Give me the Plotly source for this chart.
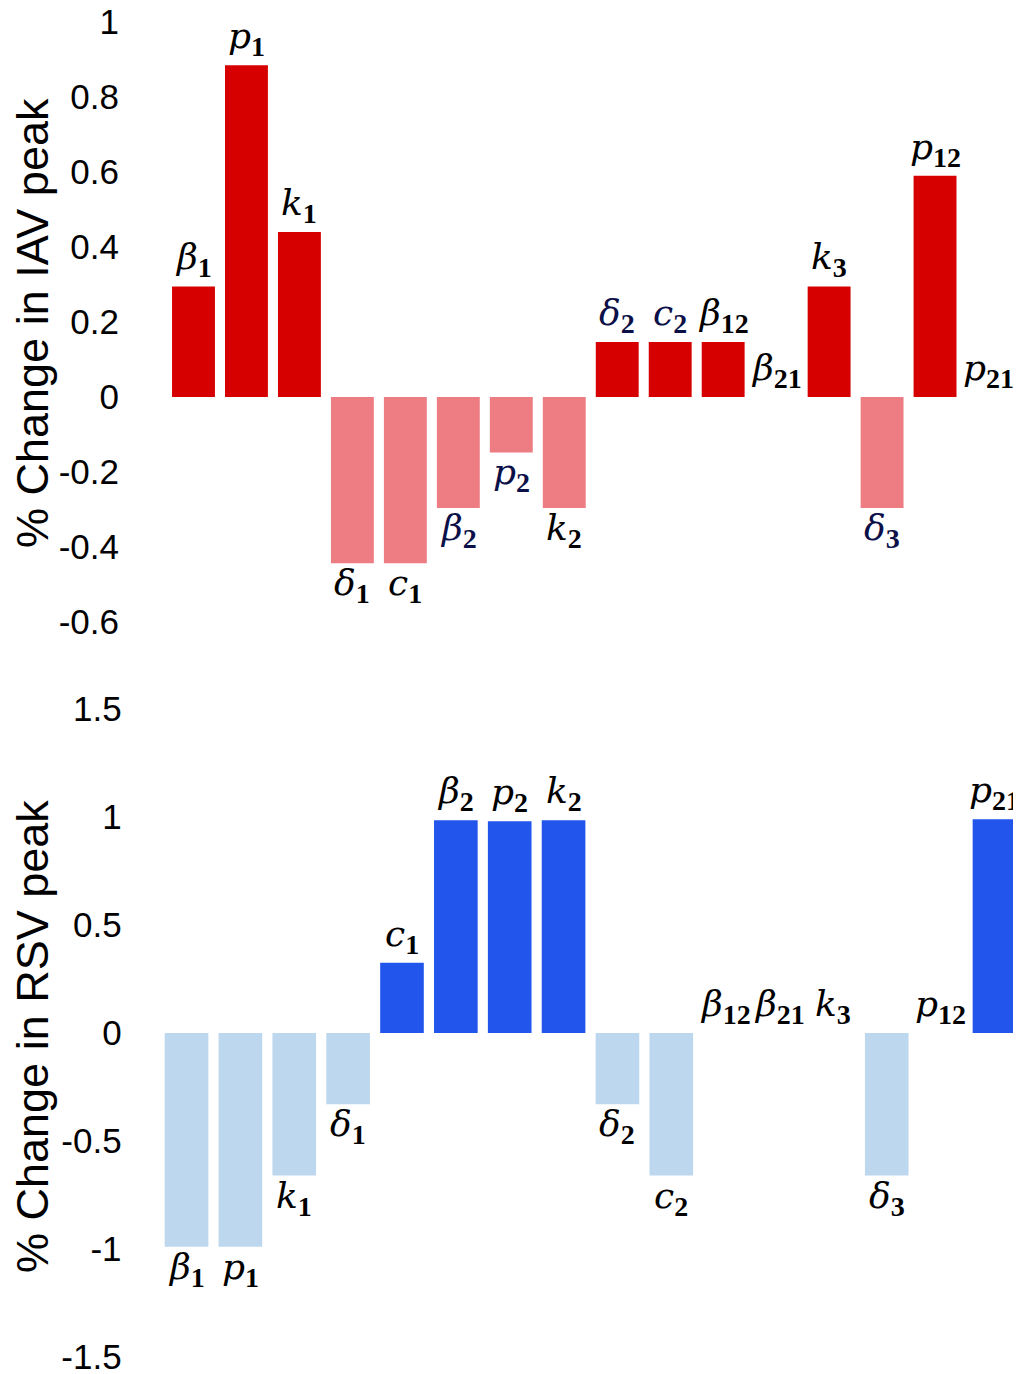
import plotly.graph_objects as go

categories = ["b1", "p1", "k1", "d1", "c1", "b2", "p2", "k2", "d2", "c2", "b12", "b21", "k3", "d3", "p12", "p21"]
label_symbols = ["β", "p", "k", "δ", "c", "β", "p", "k", "δ", "c", "β", "β", "k", "δ", "p", "p"]
label_subscripts = ["1", "1", "1", "1", "1", "2", "2", "2", "2", "2", "12", "21", "3", "3", "12", "21"]
iav_values = [0.295, 0.885, 0.44, -0.443, -0.443, -0.296, -0.148, -0.296, 0.147, 0.147, 0.147, 0.0, 0.295, -0.296, 0.59, 0.0]
rsv_values = [-0.99, -0.99, -0.66, -0.33, 0.325, 0.985, 0.98, 0.985, -0.33, -0.66, 0.0, 0.0, 0.0, -0.66, 0.0, 0.99]
iav_ticks = [1, 0.8, 0.6, 0.4, 0.2, 0, -0.2, -0.4, -0.6]
iav_ticktext = ["1", "0.8", "0.6", "0.4", "0.2", "0", "-0.2", "-0.4", "-0.6"]
rsv_ticks = [1.5, 1, 0.5, 0, -0.5, -1, -1.5]
rsv_ticktext = ["1.5", "1", "0.5", "0", "-0.5", "-1", "-1.5"]

W, H = 1021, 1374
OFF = 8  # page body margin
RED_POS, RED_NEG = "#d60000", "#ed7c83"
BLUE_POS, BLUE_NEG = "#2255ec", "#bdd7ee"
NAVY_LABELS_TOP = {"b2", "p2", "d2", "c2", "d3"}


def px_x(x):
    return (x - OFF) / W


def px_y(y):
    return 1 - (y - OFF) / H


def label_html(sym, sub):
    return ("<i>" + sym + "</i><sub><span style=\"font-family:'Liberation Serif';font-weight:bold;font-size:28px\">"
            + sub + "</span></sub>")


fig = go.Figure()
fig.add_trace(go.Bar(x=categories, y=iav_values, xaxis="x", yaxis="y",
                     marker=dict(color=[RED_POS if v >= 0 else RED_NEG for v in iav_values], line=dict(width=0)),
                     hoverinfo="skip", showlegend=False))
fig.add_trace(go.Bar(x=categories, y=rsv_values, xaxis="x2", yaxis="y2",
                     marker=dict(color=[BLUE_POS if v >= 0 else BLUE_NEG for v in rsv_values], line=dict(width=0)),
                     hoverinfo="skip", showlegend=False))

annotations = []
for vals, xr, yr, navy in [(iav_values, "x", "y", NAVY_LABELS_TOP), (rsv_values, "x2", "y2", set())]:
    for c, s, sb, v in zip(categories, label_symbols, label_subscripts, vals):
        pos = v >= 0
        col = "#0c1048" if c in navy else "black"
        annotations.append(dict(x=c, y=v, xref=xr, yref=yr, text=label_html(s, sb), showarrow=False,
                                xanchor="center", yanchor="bottom" if pos else "top",
                                yshift=1 if pos else 3,
                                font=dict(family="DejaVu Serif", size=36, color=col)))

title_font = dict(family="Liberation Sans", size=45, color="black")
annotations.append(dict(x=px_x(32), y=px_y(323), xref="paper", yref="paper", text="% Change in IAV peak",
                        textangle=-90, showarrow=False, xanchor="center", yanchor="middle", font=title_font))
annotations.append(dict(x=px_x(32), y=px_y(1037), xref="paper", yref="paper", text="% Change in RSV peak",
                        textangle=-90, showarrow=False, xanchor="center", yanchor="middle", font=title_font))

tick_font = dict(family="Liberation Sans", size=35, color="black")
axis_common = dict(showgrid=False, zeroline=False, showline=False, automargin=False)
fig.update_layout(
    template="none",
    width=W, height=H,
    margin=dict(l=0, r=0, t=0, b=0, autoexpand=False),
    paper_bgcolor="white", plot_bgcolor="white",
    bargap=0.19,
    xaxis=dict(domain=[px_x(167), px_x(1014.5)], anchor="y", showticklabels=False, ticks="",
               range=[-0.5, 15.5], **axis_common),
    xaxis2=dict(domain=[px_x(159.6), px_x(1021.4)], anchor="y2", showticklabels=False, ticks="",
                range=[-0.5, 15.5], **axis_common),
    yaxis=dict(domain=[px_y(622), px_y(22)], anchor="x", range=[-0.6, 1.0],
               tickvals=iav_ticks, ticktext=iav_ticktext, tickfont=tick_font, ticklabeloverflow="allow",
               ticks="outside", ticklen=40, tickcolor="rgba(0,0,0,0)", **axis_common),
    yaxis2=dict(domain=[px_y(1357), px_y(709)], anchor="x2", range=[-1.5, 1.5],
                tickvals=rsv_ticks, ticktext=rsv_ticktext, tickfont=tick_font, ticklabeloverflow="allow",
                ticks="outside", ticklen=30, tickcolor="rgba(0,0,0,0)", **axis_common),
    annotations=annotations,
)

fig.write_html("out.html")
